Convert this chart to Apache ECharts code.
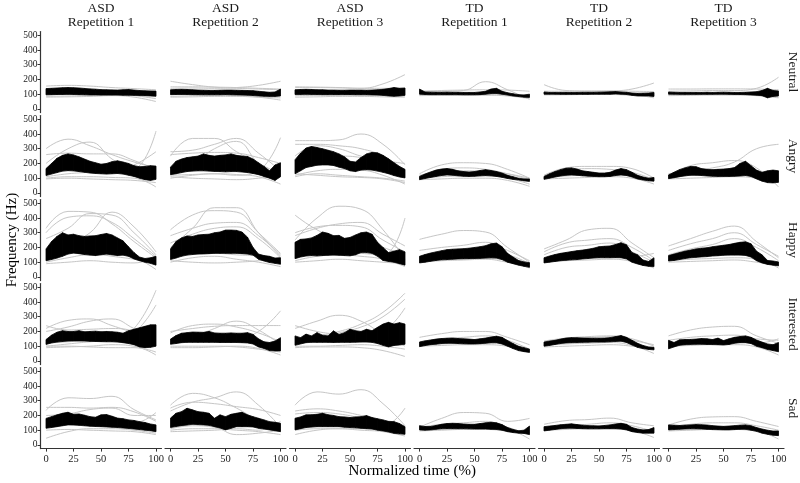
<!DOCTYPE html>
<html><head><meta charset="utf-8">
<script src="https://cdn.jsdelivr.net/npm/echarts@6/dist/echarts.min.js"></script>
<style>html,body{margin:0;padding:0;background:#fff}#c{width:800px;height:483px}</style>
</head><body><div id="c"></div>
<script>
// ---------- axes / labels ----------
const bandX = [0,5,10,15,20,25,30,35,40,45,50,55,60,65,70,75,80,85,90,95,100];
const grayX = [0,20,40,60,80,100];
const rowLabels = ['Neutral','Angry','Happy','Interested','Sad'];
const colGroups = ['ASD','ASD','ASD','TD','TD','TD'];
const colReps = ['Repetition 1','Repetition 2','Repetition 3','Repetition 1','Repetition 2','Repetition 3'];
const xTicks = [0,25,50,75,100];
const yTicks = [0,100,200,300,400,500];

// ---------- Neutral ----------
const N_asd1_hi = [138,140,142,144,145,144,142,139,136,134,131,130,129,128,130,132,128,125,123,122,121];
const N_asd1_lo = [96,97,98,98,99,98,97,96,95,95,94,94,94,94,93,93,92,91,90,88,86];
const N_asd1_gray = [[155,160,155,145,138,130],[85,88,90,92,95,100],[80,82,85,90,80,50],[120,125,125,120,115,110],[95,100,105,100,90,70]];
const N_asd2_hi = [130,132,133,132,130,128,127,126,126,127,128,128,127,126,125,124,120,116,113,115,135];
const N_asd2_lo = [97,98,98,98,97,97,96,96,96,96,97,96,95,94,93,91,88,86,85,85,88];
const N_asd2_gray = [[188,165,148,140,135,130],[140,142,140,145,160,188],[150,150,148,145,140,135],[85,90,92,90,80,60],[100,105,108,106,100,90],[80,82,85,85,80,75]];
const N_asd3_hi = [130,132,133,132,130,130,128,128,127,127,128,128,128,127,128,130,133,138,145,140,142];
const N_asd3_lo = [98,98,99,98,98,97,97,97,97,97,97,96,96,96,95,94,92,88,86,88,92];
const N_asd3_gray = [[145,145,143,140,170,233],[150,148,145,140,140,140],[90,92,94,95,92,88],[80,82,85,85,82,80],[110,112,110,108,105,100]];
const N_td1_hi = [135,115,114,113,113,114,113,113,112,112,112,115,120,135,140,120,110,103,97,95,100];
const N_td1_lo = [100,98,97,97,97,97,97,97,96,96,96,97,100,104,105,100,94,88,84,80,78];
const N_td1_gray = [[120,125,128,130,128,120],[118,120,125,185,130,65],[95,95,96,97,95,85],[90,92,92,93,88,70]];
const N_td2_hi = [115,112,112,112,112,112,112,113,113,113,114,115,116,118,115,113,108,106,107,108,112];
const N_td2_lo = [100,100,100,99,99,99,99,99,99,100,100,100,100,102,100,98,92,88,88,88,85];
const N_td2_gray = [[165,125,122,122,120,118],[120,120,120,122,135,176],[100,103,105,105,98,75],[95,96,98,98,92,85]];
const N_td3_hi = [115,113,112,112,112,112,112,113,112,113,114,113,112,112,113,115,117,125,140,125,122];
const N_td3_lo = [100,100,99,99,99,99,99,99,99,100,100,99,98,98,97,95,93,90,75,85,88];
const N_td3_gray = [[120,122,125,125,140,215],[135,135,136,136,135,130],[95,98,100,100,95,80],[90,92,94,94,90,75]];

// ---------- Angry ----------
const A_asd1_hi = [165,200,235,255,265,258,245,230,215,205,195,200,212,218,210,200,185,178,180,185,182];
const A_asd1_lo = [118,128,138,148,152,150,145,140,135,132,130,128,130,132,128,120,112,100,90,85,92];
const A_asd1_gray = [[300,365,320,260,210,170],[200,300,345,230,150,110],[260,270,265,265,220,160],[140,150,140,145,160,420],[110,130,140,150,190,280],[100,110,110,105,100,40],[95,100,95,90,85,70]];
const A_asd2_hi = [175,215,230,240,245,250,265,255,250,255,258,265,255,250,248,230,205,180,150,190,205];
const A_asd2_lo = [124,130,138,145,148,150,150,148,146,145,143,145,145,142,138,132,124,112,100,85,110];
const A_asd2_gray = [[250,370,370,280,200,130],[170,200,300,350,200,110],[280,290,330,370,270,150],[260,270,275,270,240,200],[120,125,130,120,150,375],[100,120,130,125,110,60],[110,100,95,90,100,120]];
const A_asd3_hi = [225,270,305,315,308,300,290,280,265,245,215,210,240,265,275,272,255,232,205,180,160];
const A_asd3_lo = [130,150,172,180,188,190,190,186,175,165,150,145,155,158,155,148,140,130,118,108,102];
const A_asd3_gray = [[355,355,360,400,330,190],[330,330,320,300,250,150],[250,320,300,250,220,200],[180,240,250,240,180,120],[120,150,160,155,120,60],[110,130,120,110,100,80],[130,120,110,105,95,70]];
const A_td1_hi = [112,128,142,155,162,165,160,150,145,142,145,152,158,152,145,135,120,110,100,95,95];
const A_td1_lo = [90,98,105,112,118,122,120,116,113,112,113,116,118,116,112,106,98,92,88,82,78];
const A_td1_gray = [[130,190,205,200,160,100],[115,160,170,160,130,90],[100,110,115,115,100,60],[90,95,100,100,85,45],[120,140,150,150,130,100]];
const A_td2_hi = [112,130,145,158,168,170,162,150,145,140,135,135,140,155,165,158,140,120,108,100,105];
const A_td2_lo = [92,100,108,115,120,122,120,116,114,112,110,110,112,118,122,118,108,95,88,82,80];
const A_td2_gray = [[120,170,180,180,165,100],[110,150,165,160,140,90],[95,100,105,110,100,60],[100,115,120,125,115,95]];
const A_td3_hi = [122,140,158,170,180,178,165,160,158,160,162,165,172,200,215,185,155,140,150,155,150];
const A_td3_lo = [97,103,110,116,120,120,118,115,113,112,112,112,113,115,118,112,95,80,70,68,72];
const A_td3_gray = [[120,185,205,220,170,40],[130,150,170,210,300,330],[100,120,130,135,130,100],[95,100,105,110,100,70]];

// ---------- Happy ----------
const H_asd1_hi = [190,240,275,300,285,290,280,275,278,280,288,295,285,265,245,205,165,135,125,130,140];
const H_asd1_lo = [110,118,128,140,155,162,158,152,148,145,150,155,150,145,148,140,122,110,100,92,80];
const H_asd1_gray = [[330,445,440,360,240,130],[300,405,415,370,260,140],[260,330,430,420,300,150],[170,220,300,440,340,170],[120,160,160,140,120,90],[100,130,150,150,130,50],[90,100,110,100,95,130]];
const H_asd2_hi = [190,240,265,278,275,285,288,290,300,305,318,318,316,305,270,200,155,145,140,128,130];
const H_asd2_lo = [118,128,140,148,152,155,156,158,160,160,160,160,160,158,155,148,120,108,98,92,86];
const H_asd2_gray = [[200,330,470,470,300,140],[320,420,450,440,300,160],[280,330,365,370,280,150],[230,290,330,340,260,130],[140,160,160,150,140,100],[100,130,140,120,100,70],[110,100,95,100,110,130]];
const H_asd3_hi = [235,255,258,265,282,305,296,280,282,262,268,285,300,305,290,235,200,165,175,185,170];
const H_asd3_lo = [124,135,142,145,143,145,147,148,147,145,143,150,165,165,160,140,112,105,100,90,80];
const H_asd3_gray = [[420,320,260,250,200,150],[250,400,480,460,320,120],[300,340,350,340,250,170],[280,330,360,370,290,210],[130,160,170,160,150,400],[110,140,150,140,120,70],[100,110,120,110,100,90]];
const H_td1_hi = [140,152,162,170,178,185,188,190,192,195,200,205,212,225,230,205,160,135,112,102,97];
const H_td1_lo = [95,100,106,112,116,118,120,122,123,124,125,126,128,130,128,118,100,90,80,72,65];
const H_td1_gray = [[255,290,315,305,200,100],[180,200,215,235,180,110],[130,140,150,165,150,90],[110,120,125,125,110,60],[100,110,115,120,100,80]];
const H_td2_hi = [130,142,152,160,166,172,178,182,188,195,205,208,210,220,232,218,165,150,115,105,130];
const H_td2_lo = [95,100,105,110,113,116,118,122,125,128,130,130,130,131,130,122,100,88,78,72,70];
const H_td2_gray = [[190,250,320,330,230,130],[170,230,250,260,200,110],[150,200,215,230,170,100],[120,130,135,140,140,160],[100,110,115,120,105,60]];
const H_td3_hi = [145,155,165,175,182,190,195,198,205,210,215,220,228,235,238,225,175,150,112,108,102];
const H_td3_lo = [108,112,118,125,130,133,136,138,142,144,147,148,148,148,146,135,110,95,85,80,75];
const H_td3_gray = [[210,260,310,345,240,130],[180,225,260,300,220,140],[150,190,220,260,200,110],[110,120,125,130,120,60],[100,105,110,115,100,80]];

// ---------- Interested ----------
const I_asd1_hi = [145,175,195,205,200,200,205,198,200,202,198,200,198,195,188,205,215,225,235,245,245];
const I_asd1_lo = [112,122,128,132,135,136,136,135,133,132,131,130,130,128,124,118,110,95,90,92,100];
const I_asd1_gray = [[120,130,140,150,220,480],[100,115,130,140,190,380],[220,275,285,240,190,140],[200,230,270,285,220,150],[240,210,215,220,200,110],[100,100,95,90,90,60],[90,95,100,110,100,40]];
const I_asd2_hi = [148,172,188,192,196,195,194,200,190,188,188,190,188,188,192,180,150,130,125,135,158];
const I_asd2_lo = [113,118,124,126,126,126,126,126,126,125,125,125,125,124,122,115,95,85,70,68,68];
const I_asd2_gray = [[130,140,145,150,200,340],[200,220,235,240,240,240],[190,240,250,230,190,130],[120,160,220,270,210,110],[100,100,100,95,80,60],[90,90,95,100,85,40]];
const I_asd3_hi = [170,158,182,170,192,175,170,204,180,192,215,205,200,215,205,228,250,262,250,260,250];
const I_asd3_lo = [106,115,124,126,126,126,126,125,126,126,126,127,128,128,126,118,106,95,105,108,113];
const I_asd3_gray = [[150,170,200,250,330,460],[120,150,190,230,300,420],[220,270,310,270,180,100],[240,200,180,170,160,150],[100,100,105,110,100,80],[90,95,95,90,70,30],[130,150,160,170,200,360]];
const I_td1_hi = [128,136,142,148,152,154,155,152,150,148,145,150,155,162,168,160,138,118,100,90,80];
const I_td1_lo = [97,104,110,114,118,120,120,118,116,115,115,117,120,124,124,115,100,84,70,63,58];
const I_td1_gray = [[160,185,200,200,160,110],[130,150,160,170,140,80],[110,115,120,120,110,60],[100,105,110,110,100,75]];
const I_td2_hi = [128,135,140,148,155,158,157,156,155,154,154,155,158,165,172,160,140,120,105,95,92];
const I_td2_lo = [100,105,112,118,122,124,125,126,127,128,128,128,130,132,134,125,108,92,84,78,75];
const I_td2_gray = [[135,155,165,170,150,100],[120,145,155,165,140,110],[105,115,120,125,105,50],[95,100,105,110,100,80]];
const I_td3_hi = [140,125,143,145,146,148,152,150,145,155,138,150,160,165,170,160,142,128,115,110,125];
const I_td3_lo = [82,95,106,110,112,113,113,112,111,110,108,112,120,124,124,118,100,90,78,70,62];
const I_td3_gray = [[170,210,230,235,170,120],[140,160,170,175,150,140],[110,120,125,130,120,150],[100,105,110,110,95,40]];

// ---------- Sad ----------
const S_asd1_hi = [180,192,204,215,222,208,210,202,192,188,204,206,195,182,178,170,166,158,152,142,136];
const S_asd1_lo = [113,118,124,130,136,135,133,130,127,125,124,122,120,118,115,112,108,104,100,96,90];
const S_asd1_gray = [[235,320,315,330,240,170],[255,255,250,255,225,160],[200,210,240,250,200,200],[140,150,160,155,150,220],[45,90,110,110,100,80],[100,105,100,95,90,70]];
const S_asd2_hi = [182,215,226,249,238,226,222,215,181,204,192,208,215,222,204,192,181,170,158,154,147];
const S_asd2_lo = [118,125,131,135,140,138,136,133,124,115,102,113,124,124,124,122,113,108,102,96,90];
const S_asd2_gray = [[270,350,320,250,170,130],[230,290,320,360,270,120],[250,290,280,260,240,200],[110,130,120,70,80,100],[100,110,110,100,90,70],[90,95,100,110,100,160]];
const S_asd3_hi = [181,190,204,205,208,215,205,200,192,190,186,190,192,199,186,178,170,160,158,145,124];
const S_asd3_lo = [102,110,118,121,124,124,124,124,124,120,118,116,113,110,108,100,95,88,79,75,72];
const S_asd3_gray = [[270,360,345,375,280,130],[230,245,230,200,160,110],[210,220,210,180,130,250],[100,110,110,100,90,60],[70,100,110,110,100,80]];
const S_td1_hi = [131,125,125,132,140,145,147,145,142,140,140,145,150,154,150,138,118,105,96,100,128];
const S_td1_lo = [102,100,102,106,109,110,110,110,110,109,108,108,108,106,105,100,90,84,80,78,70];
const S_td1_gray = [[120,180,220,215,160,180],[120,140,150,160,120,70],[110,120,125,130,110,40],[95,100,105,105,95,85]];
const S_td2_hi = [124,128,132,137,140,143,138,134,131,130,129,132,136,142,147,140,118,108,102,104,118];
const S_td2_lo = [95,100,105,110,113,114,112,110,109,109,109,110,110,110,108,102,90,84,80,80,80];
const S_td2_gray = [[140,165,172,182,150,130],[115,130,140,150,130,90],[105,110,115,120,100,50],[100,105,110,110,100,95]];
const S_td3_hi = [136,134,132,134,136,138,137,135,131,128,126,128,131,134,136,130,118,108,100,94,95];
const S_td3_lo = [102,104,106,108,109,109,108,106,104,103,102,102,104,106,106,100,92,80,72,66,63];
const S_td3_gray = [[135,175,190,192,160,125],[120,140,150,150,130,100],[110,115,120,120,100,40],[95,100,105,105,95,80]];

const panels = [
  [[N_asd1_lo,N_asd1_hi,N_asd1_gray],[N_asd2_lo,N_asd2_hi,N_asd2_gray],[N_asd3_lo,N_asd3_hi,N_asd3_gray],[N_td1_lo,N_td1_hi,N_td1_gray],[N_td2_lo,N_td2_hi,N_td2_gray],[N_td3_lo,N_td3_hi,N_td3_gray]],
  [[A_asd1_lo,A_asd1_hi,A_asd1_gray],[A_asd2_lo,A_asd2_hi,A_asd2_gray],[A_asd3_lo,A_asd3_hi,A_asd3_gray],[A_td1_lo,A_td1_hi,A_td1_gray],[A_td2_lo,A_td2_hi,A_td2_gray],[A_td3_lo,A_td3_hi,A_td3_gray]],
  [[H_asd1_lo,H_asd1_hi,H_asd1_gray],[H_asd2_lo,H_asd2_hi,H_asd2_gray],[H_asd3_lo,H_asd3_hi,H_asd3_gray],[H_td1_lo,H_td1_hi,H_td1_gray],[H_td2_lo,H_td2_hi,H_td2_gray],[H_td3_lo,H_td3_hi,H_td3_gray]],
  [[I_asd1_lo,I_asd1_hi,I_asd1_gray],[I_asd2_lo,I_asd2_hi,I_asd2_gray],[I_asd3_lo,I_asd3_hi,I_asd3_gray],[I_td1_lo,I_td1_hi,I_td1_gray],[I_td2_lo,I_td2_hi,I_td2_gray],[I_td3_lo,I_td3_hi,I_td3_gray]],
  [[S_asd1_lo,S_asd1_hi,S_asd1_gray],[S_asd2_lo,S_asd2_hi,S_asd2_gray],[S_asd3_lo,S_asd3_hi,S_asd3_gray],[S_td1_lo,S_td1_hi,S_td1_gray],[S_td2_lo,S_td2_hi,S_td2_gray],[S_td3_lo,S_td3_hi,S_td3_gray]]
];

// ---------- layout ----------
const FONT = '"Liberation Serif", "DejaVu Serif", serif';
const L0 = 40.5, STEPX = 124.5, PW = 121, T0 = 31.6, STEPY = 84, PH = 81;
const AXC = '#333333';

const grids = [], xAxes = [], yAxes = [], series = [], graphics = [];
for (let r = 0; r < 5; r++) {
  for (let c = 0; c < 6; c++) {
    const idx = r * 6 + c;
    const [lo, hi, gray] = panels[r][c];
    grids.push({left: L0 + c * STEPX, top: T0 + r * STEPY, width: PW, height: PH});
    xAxes.push({
      type: 'value', gridIndex: idx, min: -5, max: 105, show: r === 4,
      axisLine: {show: true, onZero: false, lineStyle: {color: AXC, width: 1.2}},
      axisTick: {show: true, customValues: xTicks, length: 3, lineStyle: {color: AXC, width: 1}},
      axisLabel: {show: true, customValues: xTicks, fontFamily: FONT, fontSize: 10.5, color: '#222', margin: 5},
      splitLine: {show: false}
    });
    yAxes.push({
      type: 'value', gridIndex: idx, min: -25, max: 525, show: c === 0,
      axisLine: {show: true, onZero: false, lineStyle: {color: AXC, width: 1.2}},
      axisTick: {show: true, customValues: yTicks, length: 3, lineStyle: {color: AXC, width: 1}},
      axisLabel: {show: true, customValues: yTicks, fontFamily: FONT, fontSize: 9.5, color: '#222', margin: 3},
      splitLine: {show: false}
    });
    gray.forEach(g => {
      series.push({
        type: 'line', xAxisIndex: idx, yAxisIndex: idx,
        data: grayX.map((x, i) => [x, g[i]]),
        smooth: 0.45, symbol: 'none', silent: true, z: 1,
        lineStyle: {color: '#c6c6c6', width: 1}
      });
    });
    const segs = [];
    for (let i = 0; i < bandX.length - 1; i++) {
      segs.push([bandX[i], lo[i], hi[i], bandX[i + 1], lo[i + 1], hi[i + 1]]);
    }
    series.push({
      type: 'custom', xAxisIndex: idx, yAxisIndex: idx, silent: true, z: 3,
      encode: {x: [0, 3], y: [1, 2, 4, 5]},
      data: segs,
      renderItem: (params, api) => {
        const a = api.coord([api.value(0), api.value(1)]);
        const b = api.coord([api.value(3), api.value(4)]);
        const cc = api.coord([api.value(3), api.value(5)]);
        const d = api.coord([api.value(0), api.value(2)]);
        return {type: 'polygon', shape: {points: [a, b, cc, d]},
          style: {fill: '#000', stroke: '#000', lineWidth: 0.8}};
      }
    });
  }
}

// strip labels
for (let c = 0; c < 6; c++) {
  const cx = L0 + c * STEPX + PW / 2;
  graphics.push({type: 'text', x: cx, y: 8, style: {text: colGroups[c], font: '13.5px ' + FONT, fill: '#1a1a1a', textAlign: 'center', textVerticalAlign: 'middle'}});
  graphics.push({type: 'text', x: cx, y: 22.5, style: {text: colReps[c], font: '13.5px ' + FONT, fill: '#1a1a1a', textAlign: 'center', textVerticalAlign: 'middle'}});
}
for (let r = 0; r < 5; r++) {
  const cy = T0 + r * STEPY + PH / 2;
  graphics.push({type: 'text', x: 793, y: cy, rotation: -Math.PI / 2, style: {text: rowLabels[r], font: '13.5px ' + FONT, fill: '#1a1a1a', textAlign: 'center', textVerticalAlign: 'middle'}});
}
graphics.push({type: 'text', x: 12, y: T0 + (4 * STEPY + PH) / 2, rotation: Math.PI / 2, style: {text: 'Frequency (Hz)', font: '15px ' + FONT, fill: '#000', textAlign: 'center', textVerticalAlign: 'middle'}});
graphics.push({type: 'text', x: L0 + (5 * STEPX + PW) / 2, y: 471, style: {text: 'Normalized time (%)', font: '15px ' + FONT, fill: '#000', textAlign: 'center', textVerticalAlign: 'middle'}});

const chart = echarts.init(document.getElementById('c'), null, {renderer: 'canvas'});
chart.setOption({
  animation: false,
  backgroundColor: '#fff',
  grid: grids, xAxis: xAxes, yAxis: yAxes, series: series,
  graphic: graphics
});
</script>
</body></html>
